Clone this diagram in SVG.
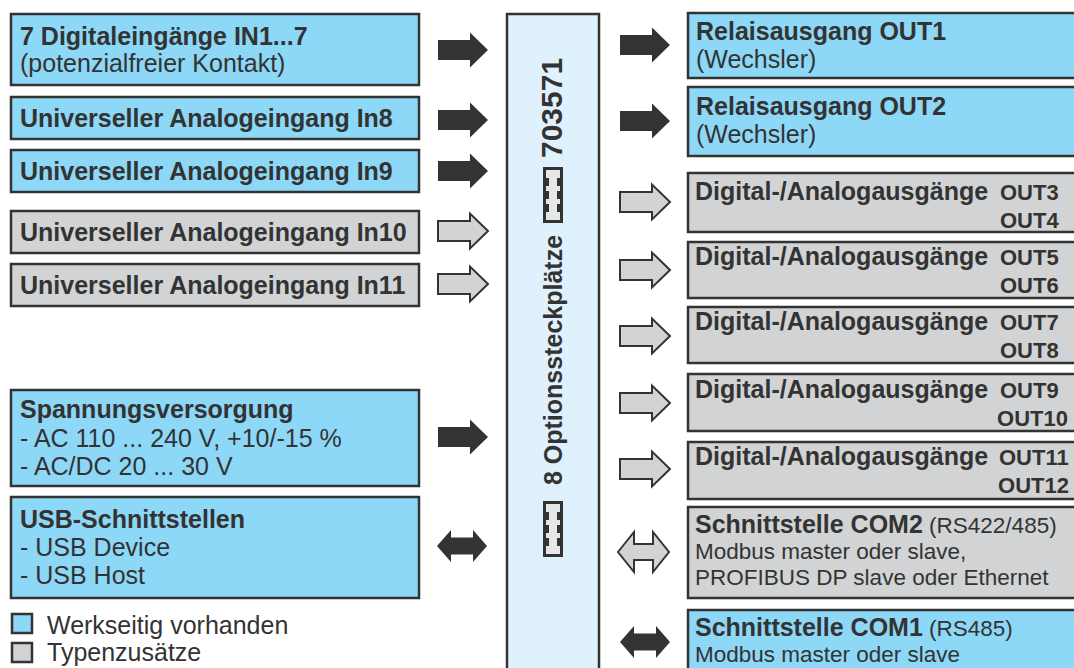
<svg xmlns="http://www.w3.org/2000/svg" xmlns:xlink="http://www.w3.org/1999/xlink" width="1074" height="668" viewBox="0 0 1074 668">
<style>
.blue{fill:#8dd7f7;stroke:#333;stroke-width:2.5}
.gray{fill:#d1d3d4;stroke:#333;stroke-width:2.5}
.ctr{fill:#dff1fc;stroke:#333;stroke-width:2.5}
text{font-family:"Liberation Sans",Arial,sans-serif;fill:#333}
.b{font-weight:bold;font-size:25px}
.r{font-size:25px}
.s{font-size:22.5px}
.o{font-weight:bold;font-size:22px}
.v{font-weight:bold;font-size:25px}
.big{font-weight:bold;font-size:30px}
.dark{fill:#333}
.out{fill:#d1d3d4;stroke:#333;stroke-width:2}
</style>
<defs>
<path id="ar" d="M0,-10 H32 V-17.5 L50,0 L32,17.5 V10 H0 Z"/>
<path id="dd" d="M0,0 L14,-16 V-8.5 H36 V-16 L50,0 L36,16 V8.5 H14 V16 Z"/>
<path id="dg" d="M0,0 L16,-20 V-8 H35 V-20 L51,0 L35,20 V8 H16 V20 Z"/>
<g id="slot">
<rect x="0" y="0" width="20" height="56" fill="#333"/>
<rect x="3" y="3" width="14" height="50" fill="#e6e7e8"/>
<rect x="3" y="11" width="3" height="8" fill="#333"/>
<rect x="14" y="11" width="3" height="8" fill="#333"/>
<rect x="3" y="24" width="3" height="8" fill="#333"/>
<rect x="14" y="24" width="3" height="8" fill="#333"/>
<rect x="3" y="37" width="3" height="8" fill="#333"/>
<rect x="14" y="37" width="3" height="8" fill="#333"/>
</g>
</defs>

<g id="center">
<rect class="ctr" x="507" y="14" width="92" height="670"/>
<text class="big" transform="translate(562,108) rotate(-90)" text-anchor="middle">703571</text>
<text class="v" transform="translate(562,360) rotate(-90)" text-anchor="middle">8 Optionssteckplätze</text>
<use xlink:href="#slot" x="543" y="167"/>
<use xlink:href="#slot" x="543" y="501"/>
</g>

<g id="in1"><rect class="blue" x="11" y="14" width="408" height="71"/>
<text class="b" x="20" y="45">7 Digitaleingänge IN1...7</text>
<text class="r" x="20" y="72">(potenzialfreier Kontakt)</text></g>
<g id="in8"><rect class="blue" x="11" y="97" width="408" height="42"/>
<text class="b" x="20" y="127">Universeller Analogeingang In8</text></g>
<g id="in9"><rect class="blue" x="11" y="150" width="408" height="42"/>
<text class="b" x="20" y="180">Universeller Analogeingang In9</text></g>
<g id="in10"><rect class="gray" x="11" y="211" width="408" height="42"/>
<text class="b" x="20" y="241">Universeller Analogeingang In10</text></g>
<g id="in11"><rect class="gray" x="11" y="264" width="408" height="42"/>
<text class="b" x="20" y="294">Universeller Analogeingang In11</text></g>
<g id="power"><rect class="blue" x="11" y="390" width="408" height="96"/>
<text class="b" x="20" y="418">Spannungsversorgung</text>
<text class="r" x="20" y="447">- AC 110 ... 240 V, +10/-15 %</text>
<text class="r" x="20" y="475">- AC/DC 20 ... 30 V</text></g>
<g id="usb"><rect class="blue" x="11" y="497" width="408" height="101"/>
<text class="b" x="20" y="528">USB-Schnittstellen</text>
<text class="r" x="20" y="556">- USB Device</text>
<text class="r" x="20" y="584">- USB Host</text></g>

<g id="legend">
<rect class="blue" x="12" y="614" width="20" height="19" stroke-width="2"/>
<text class="r" x="47" y="634">Werkseitig vorhanden</text>
<rect class="gray" x="12" y="643" width="20" height="19" stroke-width="2"/>
<text class="r" x="47" y="661">Typenzusätze</text>
</g>

<g id="out1"><rect class="blue" x="688" y="13" width="400" height="65"/>
<text class="b" x="696" y="40">Relaisausgang OUT1</text>
<text class="r" x="696" y="68">(Wechsler)</text></g>
<g id="out2"><rect class="blue" x="688" y="87" width="400" height="69"/>
<text class="b" x="696" y="115">Relaisausgang OUT2</text>
<text class="r" x="696" y="143">(Wechsler)</text></g>
<g id="out34"><rect class="gray" x="688" y="173" width="400" height="59"/>
<text class="b" x="695" y="200">Digital-/Analogausgänge</text><text class="o" x="1000" y="200">OUT3</text>
<text class="o" x="1000" y="228">OUT4</text></g>
<g id="out56"><rect class="gray" x="688" y="242" width="400" height="56"/>
<text class="b" x="695" y="265">Digital-/Analogausgänge</text><text class="o" x="1000" y="265">OUT5</text>
<text class="o" x="1000" y="293">OUT6</text></g>
<g id="out78"><rect class="gray" x="688" y="307" width="400" height="56"/>
<text class="b" x="695" y="330">Digital-/Analogausgänge</text><text class="o" x="1000" y="330">OUT7</text>
<text class="o" x="1000" y="358">OUT8</text></g>
<g id="out910"><rect class="gray" x="688" y="374" width="400" height="57"/>
<text class="b" x="695" y="398">Digital-/Analogausgänge</text><text class="o" x="1000" y="398">OUT9</text>
<text class="o" x="1068" y="426" text-anchor="end">OUT10</text></g>
<g id="out1112"><rect class="gray" x="688" y="442" width="400" height="57"/>
<text class="b" x="695" y="465">Digital-/Analogausgänge</text><text class="o" x="999" y="465">OUT11</text>
<text class="o" x="1069" y="493" text-anchor="end">OUT12</text></g>
<g id="com2"><rect class="gray" x="688" y="507" width="400" height="91"/>
<text x="695" y="533"><tspan class="b">Schnittstelle COM2</tspan><tspan class="s"> (RS422/485)</tspan></text>
<text class="s" x="695" y="559">Modbus master oder slave,</text>
<text class="s" x="695" y="585">PROFIBUS DP slave oder Ethernet</text></g>
<g id="com1"><rect class="blue" x="688" y="610" width="400" height="70"/>
<text x="695" y="636"><tspan class="b">Schnittstelle COM1</tspan><tspan class="s"> (RS485)</tspan></text>
<text class="s" x="695" y="662">Modbus master oder slave</text></g>

<g id="connectors">
<use xlink:href="#ar" class="dark" x="438" y="50"/>
<use xlink:href="#ar" class="dark" x="438" y="120"/>
<use xlink:href="#ar" class="dark" x="438" y="171"/>
<use xlink:href="#ar" class="out" x="438" y="231"/>
<use xlink:href="#ar" class="out" x="438" y="284"/>
<use xlink:href="#ar" class="dark" x="438" y="437"/>
<use xlink:href="#dd" class="dark" x="437" y="546"/>
<use xlink:href="#ar" class="dark" x="620" y="45"/>
<use xlink:href="#ar" class="dark" x="620" y="121"/>
<use xlink:href="#ar" class="out" x="620" y="202"/>
<use xlink:href="#ar" class="out" x="620" y="270"/>
<use xlink:href="#ar" class="out" x="620" y="336"/>
<use xlink:href="#ar" class="out" x="620" y="403"/>
<use xlink:href="#ar" class="out" x="620" y="469"/>
<use xlink:href="#dg" class="out" x="618" y="552"/>
<use xlink:href="#dd" class="dark" x="620" y="642"/>
</g>
</svg>
